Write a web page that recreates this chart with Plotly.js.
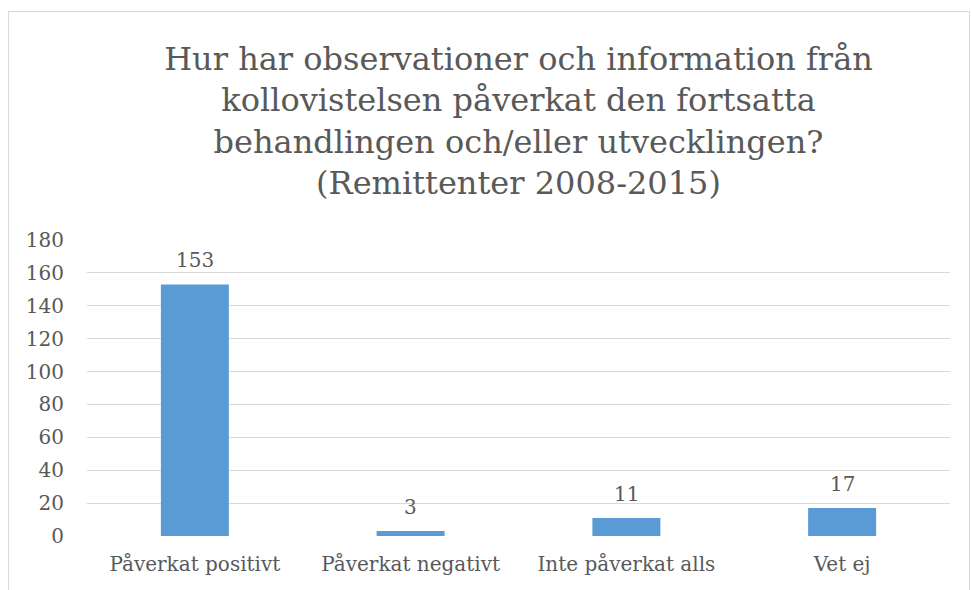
<!DOCTYPE html>
<html><head><meta charset="utf-8">
<script src="https://cdn.plot.ly/plotly-3.0.1.min.js"></script>
<style>
html,body{margin:0;padding:0;background:#fff;overflow:hidden}
#frame{position:absolute;left:8px;top:11px;width:962px;height:620px;border:1px solid #d9d9d9;box-sizing:border-box;pointer-events:none;z-index:5}
#chart{position:absolute;left:0;top:0;width:971px;height:590px}
</style></head>
<body>
<div id="chart"></div><div id="frame"></div>
<script>
const categories = ["Påverkat positivt", "Påverkat negativt", "Inte påverkat alls", "Vet ej"];
const values = [153, 3, 11, 17];
const yTicks = [0, 20, 40, 60, 80, 100, 120, 140, 160, 180];
const titleText = "Hur har observationer och information från<br>kollovistelsen påverkat den fortsatta<br>behandlingen och/eller utvecklingen?<br>(Remittenter 2008-2015)";

const font = "DejaVu Serif";
const grey = "#595959";
const labels = values.map((v, i) => ({
  x: categories[i], y: v, xref: "x", yref: "y", text: String(v),
  showarrow: false, yanchor: "bottom", yshift: 10,
  font: {family: font, size: 20, color: grey}
}));
Plotly.newPlot("chart", [{
  type: "bar",
  x: categories,
  y: values,
  marker: {color: "#5b9bd5"},
  hoverinfo: "none"
}], {
  width: 971, height: 590,
  margin: {l: 87, r: 21, t: 240, b: 54},
  paper_bgcolor: "#fff", plot_bgcolor: "#fff",
  bargap: 0.685,
  showlegend: false,
  annotations: labels,
  title: {text: titleText, font: {family: font, size: 32, color: grey}, x: 0.5, xanchor: "center", xref: "paper", y: 0.882, yref: "container", yanchor: "top"},
  xaxis: {tickfont: {family: font, size: 20, color: grey}, showgrid: false, zeroline: false, showline: false, ticks: "", ticklabelstandoff: 14},
  yaxis: {range: [0, 180], tickvals: yTicks, tickfont: {family: font, size: 20, color: grey}, gridcolor: "#d9d9d9", gridwidth: 1, zeroline: false, showline: false, ticks: "", ticklabelstandoff: 22}
}, {staticPlot: true});
</script>
</body></html>
